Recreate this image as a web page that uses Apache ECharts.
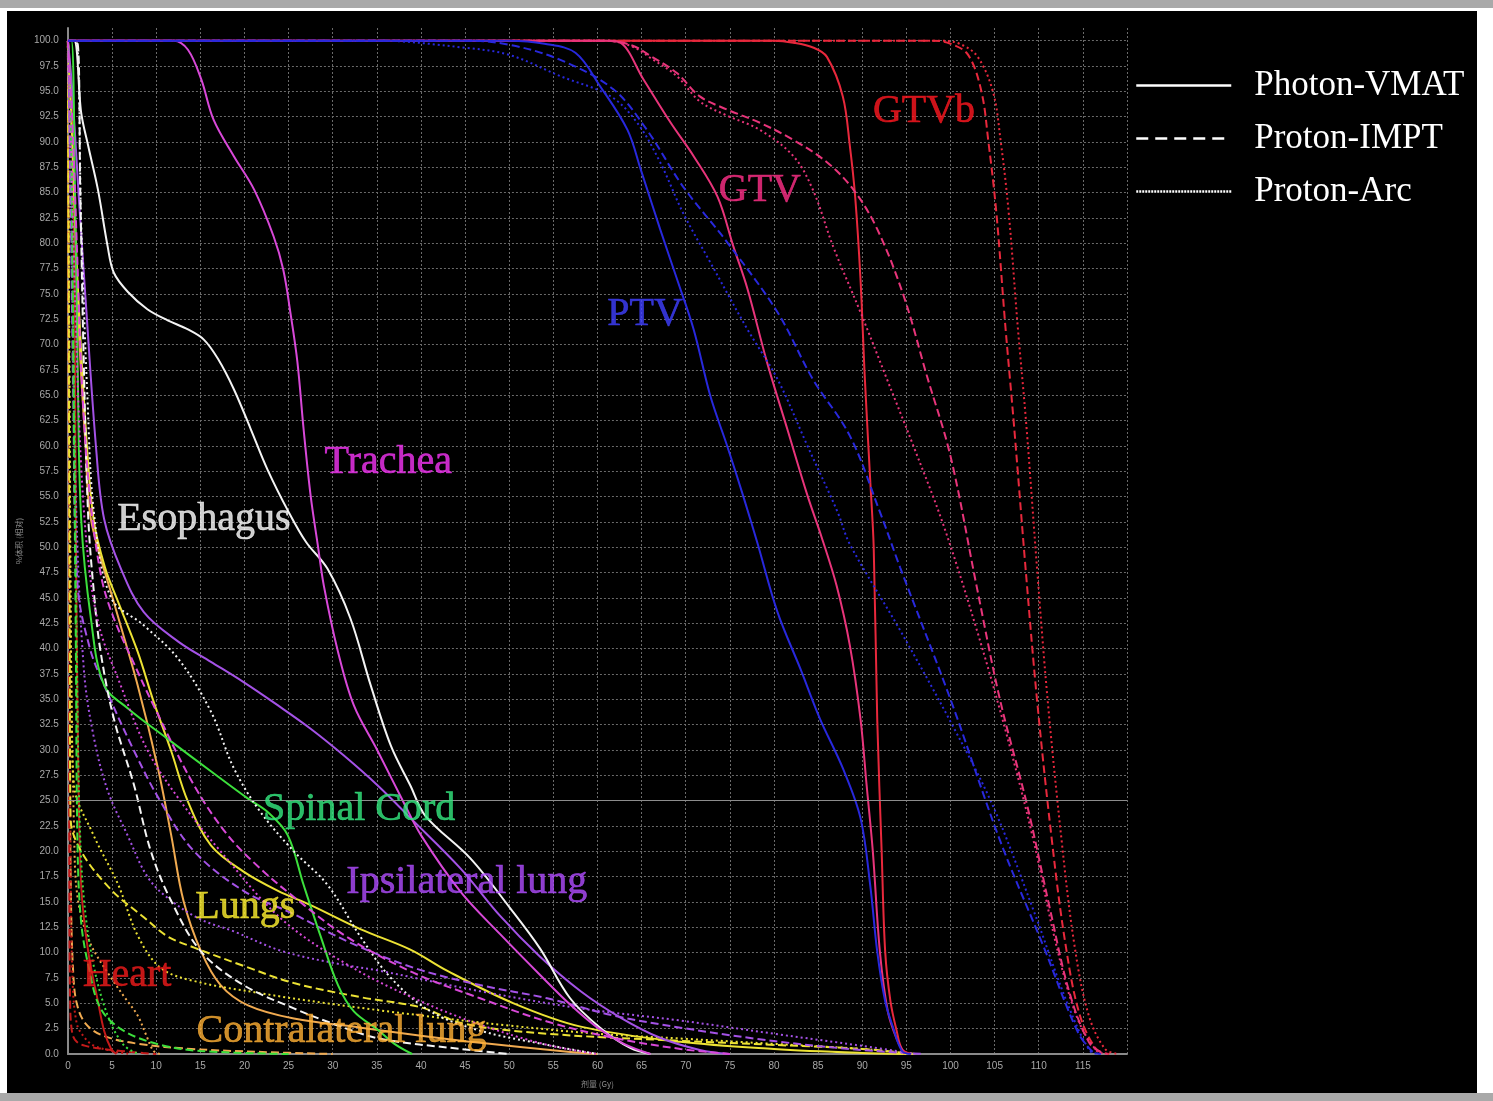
<!DOCTYPE html>
<html>
<head>
<meta charset="utf-8">
<title>DVH</title>
<script src="https://cdn.jsdelivr.net/npm/echarts@6/dist/echarts.min.js"></script>
<style>
html, body { margin: 0; padding: 0; background: #fff; width: 1493px; height: 1101px; overflow: hidden; }
#topBar { position: absolute; left: 0; top: 0; width: 1493px; height: 8px; background: #a9a9a9; }
#bottomBar { position: absolute; left: 0; top: 1093px; width: 1493px; height: 8px; background: #a9a9a9; }
#main { position: absolute; left: 7px; top: 11px; width: 1470px; height: 1082px; background: #000; }
</style>
</head>
<body>
<div id="topBar"></div>
<div id="main"></div>
<div id="bottomBar"></div>
<script>
// 计划类型
var plans = ['Photon-VMAT', 'Proton-IMPT', 'Proton-Arc'];

// DVH 曲线 [剂量 Gy, 体积 %]
var gtvbVmat = [[0,100],[80,100],[82.2,99.8],[84.5,99.3],[86,98.4],[87.8,94.5],[88.6,89.6],[89.2,84.6],[89.8,76.5],[90.3,66.6],[90.9,56.7],[91.3,50],[91.7,33],[92.2,20],[92.6,10.1],[93.2,5.2],[93.9,2.3],[94.5,0.5],[95.5,0]];
var gtvbImpt = [[0,100],[98,100],[100,99.7],[102,98.6],[103.5,95],[104.3,90],[105.2,83],[106.2,72],[107.2,62],[108.5,48],[109.8,35],[111.5,21],[113,11],[114.6,4],[116.5,0.5],[118,0]];
var gtvbArc = [[0,100],[99,100],[101,99.7],[103,98.5],[104.8,95],[105.7,90],[106.6,83],[107.6,72],[108.6,62],[109.8,48],[111,35],[112.6,21],[114,11],[115.6,4],[117.5,0.5],[119,0]];

var gtvVmat = [[0,100],[61,100],[62.6,99.8],[65.2,96.2],[68.3,91.9],[70.9,88.6],[73.6,84.6],[75.4,79.7],[77,75.5],[79.2,68.3],[81.5,61.7],[83.8,55.1],[85.4,51],[87.1,46.2],[88.6,40.3],[89.8,33.1],[90.5,26.5],[91.2,20],[92,10.1],[92.9,4.2],[93.9,1.5],[94.8,0]];
var gtvImpt = [[0,100],[61,100],[64,99.5],[66,98.5],[69,96.8],[71.6,94.5],[74.7,93.2],[78.4,91.9],[82.2,90.2],[86,88],[89,85.3],[91.7,81.4],[94.7,74.8],[97.3,67],[100,59],[103,46],[105.6,35],[108.7,24.5],[111.3,14.2],[113.5,6],[115.8,1],[117.5,0]];
var gtvArc = [[0,100],[61,100],[64,99.4],[66,98.3],[69,96.5],[71.6,94],[74.7,92.6],[78.4,91.2],[82.2,88.6],[84.4,85.3],[86.7,79.7],[89.8,73.2],[92.8,66.6],[95.8,60],[99.2,52.2],[103,41.8],[106.4,31.4],[109.4,21.1],[112,10.7],[114.3,3.7],[116.6,0.3],[118,0]];

var ptvVmat = [[0,100],[50,100],[54,99.7],[57.5,98.8],[60.3,95.5],[63.4,91.2],[64.9,87.3],[67.1,81.4],[69,76.5],[70.9,71.5],[72.8,64.9],[74.7,60],[76.5,55.1],[78.1,50.5],[80.4,43.6],[83,38],[85.2,33.1],[87.8,28.2],[89.8,23.3],[90.9,16.7],[91.7,10.1],[92.6,5.2],[93.5,2.6],[94.5,0.3],[95.5,0]];
var ptvImpt = [[0,100],[45,100],[50,99.6],[55.8,98.1],[61.8,95.2],[65.6,91.2],[69.7,85.6],[74.7,80.1],[80.4,73.2],[84.4,66.6],[88.6,61],[92,53.5],[94.3,48],[100,35],[105.6,21.1],[110.5,10.7],[114.3,2.4],[116,0.3],[117,0]];
var ptvArc = [[0,100],[35,100],[45,99.3],[50,98.6],[55.8,96.5],[61.5,94.5],[64.5,91.9],[67.1,88],[69.7,83],[72.8,78.1],[77,71.5],[80.4,66.6],[83.8,60],[87.2,53.5],[88.6,50.3],[94.3,41.8],[100,32.8],[104.8,24.5],[109.4,14.2],[113.2,5.1],[115.8,0.3],[117,0]];

var tracheaVmat = [[0,100],[12,100],[13.6,99.1],[15.1,96.2],[16.5,92.2],[18.8,88.6],[21.1,85.3],[23.3,80.7],[24.4,77.4],[25.2,73.2],[26,68.3],[26.7,61.7],[27.5,55.1],[28.3,50.3],[29,46.2],[30.6,39.7],[32.4,34.4],[35.1,29.9],[38,24.9],[40,21.6],[44.5,16],[49,11.8],[53.5,7.8],[57,4.8],[60,2.6],[63,1],[66,0]];
var tracheaImpt = [[0,100],[0.5,92],[1,80],[1.6,66],[2.5,55],[3.8,47],[5.2,43],[7.5,38.5],[9.7,34.4],[14.3,26.5],[18.1,21.6],[21.8,18.3],[25.6,15.5],[31.7,11.5],[39.2,8],[46.7,5.5],[54.3,3.2],[61.8,1.6],[69.4,0.5],[75,0]];
var tracheaArc = [[0,100],[0.4,88],[0.9,72],[1.5,58],[2.4,48],[3.6,42],[5.7,37],[9,30],[12.8,24.9],[17.3,20],[24.1,13.4],[31.7,8.8],[39.2,5.5],[46.7,2.9],[54.3,0.9],[60,0]];

var esoVmat = [[0,100],[0.7,100],[1.5,92.9],[2.3,89.6],[3.4,85.3],[4.5,79.7],[5.2,77.1],[6.8,75.2],[9,73.5],[11.3,72.4],[13.6,71.5],[15.4,70.5],[17,68.6],[18.8,65.6],[20.7,61.7],[22.6,57.7],[25,53.5],[27,50.5],[29.4,47.9],[32,43],[34.3,36.4],[36.6,30.4],[38.8,26.5],[40.5,23.5],[45.6,19.3],[50.1,14.4],[53.5,10.4],[56.9,5.5],[60.3,2.6],[63.7,0.6],[66,0]];
var esoImpt = [[0,100],[1,100],[1.4,85],[1.8,68],[2.3,53],[3,45],[3.7,39.7],[5.2,33.1],[7.5,26.5],[9.4,20],[11.7,15.1],[15.1,10.1],[19.9,6.8],[25.6,4.5],[30,3],[35.4,1.5],[44.5,0.5],[50,0]];
var esoArc = [[0,100],[0.9,100],[1.5,82],[2.2,65],[3,53],[4.9,45],[8.6,42.3],[12.5,39],[16.2,33.8],[18.8,28.2],[21.8,23.9],[25.6,20],[29.4,16.7],[33.2,11.5],[36.6,7.5],[41.1,4.2],[46.7,2.3],[54.3,0.9],[60,0]];

var cordVmat = [[0,100],[0.4,100],[0.8,85],[1.1,68],[1.5,52.8],[2.6,43],[4.1,36.4],[6.8,34.1],[11.3,31.1],[16.2,27.9],[20.4,25.2],[22.6,23.9],[24.9,21.6],[26.7,16.7],[28.6,11.7],[30.6,6.8],[32.4,4.2],[35.1,2.4],[37,1],[39,0]];
var cordImpt = [[0,100],[0.3,95],[0.6,70],[0.9,40],[1.1,20],[1.5,13],[2.3,8.8],[3.7,4.5],[6.3,2.3],[10.5,0.9],[15,0.3],[25,0]];
var cordArc = [[0,100],[0.3,92],[0.7,65],[1,40],[1.3,24],[1.8,15.4],[2.9,8.8],[4.5,3.8],[6.3,0.9],[8,0]];

var ipsiVmat = [[0,100],[0.5,95],[1.2,85],[2,74.5],[3.2,59.7],[4.1,52.8],[6,47.9],[8.6,43.6],[12.5,40.7],[16.2,38.7],[19.9,36.7],[23.8,34.4],[27.5,32.1],[31.2,29.5],[35.1,26.5],[38.8,23.3],[44.5,18.3],[49,13.6],[53.5,9.6],[58.1,6.2],[62.6,3.6],[67.1,1.6],[71.6,0.4],[75,0]];
var ipsiImpt = [[0,100],[0.3,85],[0.6,65],[1.1,46.2],[2.5,40],[4.1,36.4],[7.5,29.9],[10.5,24.9],[14.3,20],[19.9,16.1],[25.6,13.8],[31.7,11.1],[39.2,8.5],[46.7,6.8],[54.3,5.5],[61.8,3.8],[69.4,2.6],[78,1.5],[86,0.7],[93,0.2],[97,0]];
var ipsiArc = [[0,100],[0.4,80],[0.9,55],[1.8,38],[2.9,31.4],[4.5,26],[6.8,21.5],[9,17.5],[11.3,15.4],[15,13.3],[18.8,12.1],[24.1,10.2],[30,9],[35.4,8.2],[46.7,6.2],[58.1,4.5],[69.4,3.3],[80,2],[90,0.8],[96,0]];

var lungsVmat = [[0,100],[0.4,92],[1,78],[2,62],[2.9,52.8],[4.2,48],[5.7,44.6],[7.9,39.7],[9.7,34.8],[11.7,29.9],[13.6,24.9],[16.2,20.6],[19.9,18],[23.8,16.1],[27.5,14.7],[33.2,12.3],[38.8,10.3],[43,8.2],[50.5,5],[58.1,2.7],[69.4,1.2],[80,0.5],[90,0.1],[95,0]];
var lungsImpt = [[0,100],[0.1,70],[0.2,40],[0.3,23.3],[1.5,20],[4.9,16.2],[8.6,13.5],[11.3,11.6],[14.3,10.5],[19.9,8.7],[25.6,7],[33.2,5.6],[40,4.6],[44.8,3],[54.3,2],[69.4,1.3],[80,0.9],[90,0.5],[96,0]];
var lungsArc = [[0,100],[0.2,60],[0.4,35],[0.7,26.5],[2.9,21.6],[5.7,16.7],[7.9,11.7],[10.5,8.5],[14.3,7.2],[21.8,6],[29.4,5],[40,3.8],[50,2.8],[60,2],[70,1.5],[80,1],[90,0.5],[96,0]];

var heartVmat = [[0,100],[0.5,92],[0.75,75],[0.9,52.8],[1.1,33],[1.5,16.7],[2.3,10.1],[3.4,5.2],[4.1,2.3],[4.9,0.5],[5.5,0]];
var heartImpt = [[0,100],[0.1,60],[0.15,20],[0.25,5],[0.5,2],[1,1.2],[2,0.8],[4,0.5],[6,0.3],[8.5,0.1],[10,0]];
var heartArc = [[0,100],[0.1,70],[0.2,40],[0.3,20],[0.5,8],[1,3],[2,1.5],[3,0.8],[5,0.3],[7,0]];

var contraVmat = [[0,100],[0.5,90],[1.2,72],[2,60],[2.6,52.8],[5.2,44.6],[7.9,36.4],[10.2,28.2],[11.7,21.6],[13.1,15.1],[15.1,10.1],[17.3,6.8],[20.4,4.8],[25.6,3.5],[33.2,2.6],[40,1.8],[46.7,1.1],[55.8,0.3],[60,0]];
var contraImpt = [[0,100],[0.1,60],[0.2,30],[0.35,15],[0.6,8],[1,5],[2,3],[4,1.8],[8,1],[14,0.5],[22,0.2],[30,0]];
var contraArc = [[0,100],[0.15,70],[0.35,40],[0.7,22],[1.1,15.4],[2.5,11],[4.9,7.5],[6.5,5.5],[7.9,3.8],[8.8,2],[9.7,0.3],[10.5,0]];

// 结构名称标注
var labelNames = ['GTVb', 'GTV', 'PTV', 'Trachea', 'Esophagus', 'Spinal Cord', 'Ipsilateral lung', 'Lungs', 'Heart', 'Contralateral lung'];
var labelDose = [97.0, 78.4, 65.4, 36.3, 15.4, 33.0, 45.2, 20.1, 6.7, 31.0];
var labelVolume = [93.0, 85.2, 73.0, 58.4, 52.7, 24.1, 16.9, 14.5, 7.7, 2.2];

var refVolume = 25;

// 绘制顺序（后画的在上层）
var structures = [
	{ name: 'Contralateral lung', curves: [contraVmat, contraImpt, contraArc] },
	{ name: 'Heart', curves: [heartVmat, heartImpt, heartArc] },
	{ name: 'Lungs', curves: [lungsVmat, lungsImpt, lungsArc] },
	{ name: 'Ipsilateral lung', curves: [ipsiVmat, ipsiImpt, ipsiArc] },
	{ name: 'Spinal Cord', curves: [cordVmat, cordImpt, cordArc] },
	{ name: 'Esophagus', curves: [esoVmat, esoImpt, esoArc] },
	{ name: 'Trachea', curves: [tracheaVmat, tracheaImpt, tracheaArc] },
	{ name: 'GTVb', curves: [gtvbVmat, gtvbImpt, gtvbArc] },
	{ name: 'GTV', curves: [gtvVmat, gtvImpt, gtvArc] },
	{ name: 'PTV', curves: [ptvVmat, ptvImpt, ptvArc] }
];

var lineColors = {
	'GTVb': '#e8283c',
	'GTV': '#e8347a',
	'PTV': '#2828dc',
	'Trachea': '#d848d8',
	'Esophagus': '#f4f4f4',
	'Spinal Cord': '#3ce03c',
	'Ipsilateral lung': '#a452e6',
	'Lungs': '#ece234',
	'Heart': '#c41a1a',
	'Contralateral lung': '#f0aa50'
};
var labelColors = {
	'GTVb': '#ff1820',
	'GTV': '#ff3088',
	'PTV': '#4040ff',
	'Trachea': '#f434f4',
	'Esophagus': '#ffffff',
	'Spinal Cord': '#34e880',
	'Ipsilateral lung': '#b04cff',
	'Lungs': '#fff030',
	'Heart': '#f01c1c',
	'Contralateral lung': '#ffb034'
};
var planDash = ['solid', [8, 4], [2, 3]];
var legendDash = ['solid', [12, 7], [2, 1]];

var serif = 'Liberation Serif, Times New Roman, serif';

var dvhChart = function() {
	var myChart = echarts.init(document.getElementById('main'));
	var series = [];

	// 图例用的空系列
	plans.forEach(function(p, i) {
		series.push({
			name: p,
			type: 'line',
			data: [],
			symbol: 'none',
			itemStyle: { color: '#fff', opacity: 0 },
			lineStyle: { color: '#fff', width: 2.5, type: legendDash[i] }
		});
	});

	structures.forEach(function(s) {
		s.curves.forEach(function(c, i) {
			series.push({
				name: s.name + ' ' + plans[i],
				type: 'line',
				data: c,
				symbol: 'none',
				smooth: 0.35,
				silent: true,
				lineStyle: { color: lineColors[s.name], width: 2, type: planDash[i] }
			});
		});
	});

	// 25% 参考线
	series[3].markLine = {
		silent: true,
		symbol: 'none',
		label: { show: false },
		lineStyle: { color: '#8c8c8c', width: 1, type: 'solid' },
		data: [{ yAxis: refVolume }]
	};

	series.push({
		name: 'labels',
		type: 'scatter',
		symbolSize: 1,
		silent: true,
		z: 10,
		itemStyle: { color: 'transparent' },
		label: {
			show: true,
			position: 'inside',
			fontFamily: serif,
			fontSize: 40,
			formatter: function(p) { return p.name; }
		},
		data: labelNames.map(function(n, i) {
			return {
				name: n,
				value: [labelDose[i], labelVolume[i]],
				label: { color: labelColors[n], textBorderColor: labelColors[n], textBorderWidth: 0.6 }
			};
		})
	});

	var option = {
		animation: false,
		backgroundColor: '#000',
		grid: { left: 60, right: 350, top: 17, bottom: 37 },
		legend: {
			data: plans,
			orient: 'vertical',
			left: 1123,
			top: 52,
			itemWidth: 95,
			itemHeight: 14,
			itemGap: 18,
			selectedMode: false,
			itemStyle: { opacity: 0 },
			lineStyle: { width: 2.5 },
			textStyle: { color: '#fff', fontFamily: serif, fontSize: 35, lineHeight: 34, padding: [0, 0, 0, 18] }
		},
		xAxis: {
			type: 'value',
			min: 0,
			max: 120,
			interval: 5,
			name: '剂量 (Gy)',
			nameLocation: 'middle',
			nameGap: 26,
			nameTextStyle: { color: '#8a8a8a', fontSize: 8, fontFamily: 'Noto Sans CJK SC' },
			axisLine: { lineStyle: { color: '#8a8a8a', width: 2 } },
			axisTick: { show: false },
			axisLabel: { color: '#a8a8a8', fontSize: 10, fontFamily: 'Liberation Sans', margin: 7, showMaxLabel: false },
			splitLine: { lineStyle: { color: '#6a6a6a', width: 1, type: [2, 2] } }
		},
		yAxis: {
			type: 'value',
			min: 0,
			max: 101.25,
			interval: 2.5,
			offset: 3,
			name: '%体积 (相对)',
			nameLocation: 'middle',
			nameGap: 40,
			nameTextStyle: { color: '#8a8a8a', fontSize: 8, fontFamily: 'Noto Sans CJK SC' },
			axisLine: { show: true, lineStyle: { color: '#8a8a8a', width: 2 } },
			axisTick: { show: false },
			axisLabel: {
				color: '#a8a8a8', fontSize: 10, fontFamily: 'Liberation Sans', margin: 6, showMaxLabel: false,
				formatter: function(v) { return v.toFixed(1); }
			},
			splitLine: { showMaxLine: false, lineStyle: { color: '#6a6a6a', width: 1, type: [2, 2] } }
		},
		series: series
	};
	myChart.setOption(option);
};

dvhChart();
</script>
</body>
</html>
